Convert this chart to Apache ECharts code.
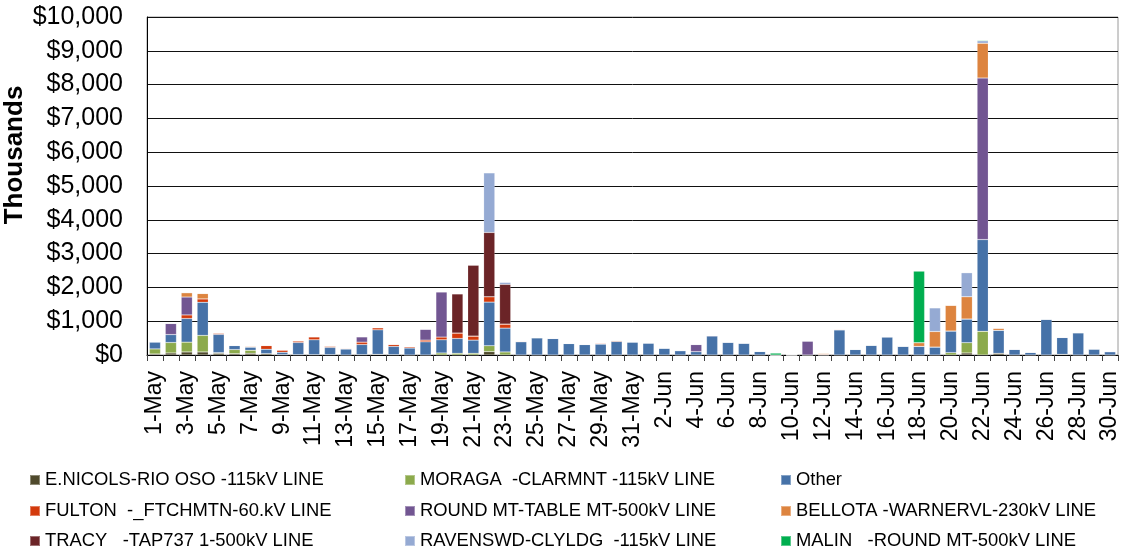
<!DOCTYPE html>
<html><head><meta charset="utf-8">
<script src="https://cdn.jsdelivr.net/npm/echarts@6/dist/echarts.min.js"></script>
<style>html,body{margin:0;padding:0;background:#fff}#c{width:1122px;height:554px}</style>
</head><body><div id="c"></div>
<script>
const categories = ["1-May","2-May","3-May","4-May","5-May","6-May","7-May","8-May","9-May","10-May","11-May","12-May","13-May","14-May","15-May","16-May","17-May","18-May","19-May","20-May","21-May","22-May","23-May","24-May","25-May","26-May","27-May","28-May","29-May","30-May","31-May","1-Jun","2-Jun","3-Jun","4-Jun","5-Jun","6-Jun","7-Jun","8-Jun","9-Jun","10-Jun","11-Jun","12-Jun","13-Jun","14-Jun","15-Jun","16-Jun","17-Jun","18-Jun","19-Jun","20-Jun","21-Jun","22-Jun","23-Jun","24-Jun","25-Jun","26-Jun","27-Jun","28-Jun","29-Jun","30-Jun"];
const seriesNames = ["E.NICOLS-RIO OSO -115kV LINE","MORAGA  -CLARMNT -115kV LINE","Other","FULTON  -_FTCHMTN-60.kV LINE","ROUND MT-TABLE MT-500kV LINE","BELLOTA -WARNERVL-230kV LINE","TRACY   -TAP737 1-500kV LINE","RAVENSWD-CLYLDG  -115kV LINE","MALIN   -ROUND MT-500kV LINE"];
const colors = ["#4F4A2C","#8CAA4C","#4672A8","#D33A0C","#725692","#DD843F","#6B2427","#95AAD3","#00AE4F"];
const yAxisTitle = "Thousands";
// values in thousands of dollars
const eNicols = [30,60,90,90,50,40,50,40,10,10,10,10,0,10,20,10,0,0,0,0,0,100,0,0,0,0,0,0,0,0,0,0,0,0,0,0,0,0,0,0,0,0,0,0,0,0,0,0,0,0,0,60,0,50,0,0,0,20,0,0,0];
const moraga = [150,310,290,490,20,120,90,0,0,0,0,0,0,0,0,0,0,0,60,50,50,175,90,0,0,0,0,0,0,0,0,0,0,0,0,0,0,0,0,0,0,0,0,0,0,0,0,0,0,0,70,305,700,0,0,0,0,0,0,0,0];
const other = [210,235,700,980,540,120,90,130,70,360,440,215,175,300,725,245,205,390,390,440,390,1290,705,390,510,490,340,310,320,400,385,355,200,130,100,565,375,350,105,0,5,0,0,740,165,290,535,260,255,235,640,700,2715,680,170,80,1060,500,660,180,100];
const fulton = [0,0,105,100,40,0,20,110,70,50,90,40,20,70,60,60,40,50,80,160,120,160,120,20,0,0,0,0,30,25,5,5,10,0,0,0,10,5,5,0,0,0,20,20,5,0,5,0,0,0,0,0,0,0,0,0,0,0,0,0,0];
const roundMt = [0,330,530,0,0,0,0,0,0,0,0,0,0,160,0,0,0,325,1340,0,0,0,0,0,0,0,0,0,0,0,0,0,0,0,210,10,0,0,0,0,0,415,0,0,0,0,0,0,0,0,0,0,4780,0,0,0,0,0,0,0,0];
const bellota = [0,0,130,160,0,0,20,0,0,0,0,0,15,0,10,0,0,0,0,0,0,0,0,0,0,0,0,0,0,0,0,0,0,0,0,0,0,0,0,0,0,0,30,0,0,0,0,0,110,460,760,660,1030,60,0,0,0,0,0,0,0];
const tracy = [0,0,0,0,0,0,0,0,0,0,0,0,0,0,0,0,0,0,0,1160,2100,1900,1175,0,0,0,0,0,0,0,0,0,0,0,0,0,0,0,0,0,0,0,0,0,0,0,0,0,0,0,0,0,0,0,0,0,0,0,0,0,0];
const ravenswd = [0,0,0,0,0,15,0,0,0,0,0,0,0,0,0,0,0,0,0,0,0,1765,60,0,10,0,0,0,0,0,0,0,0,10,0,0,0,0,0,0,0,0,0,10,0,5,0,5,0,700,0,710,70,10,0,0,0,0,0,0,0];
const malin = [0,0,0,0,0,0,0,0,0,0,0,0,0,0,0,0,0,0,0,0,0,0,0,0,0,0,0,0,0,0,0,0,0,0,0,0,0,0,0,55,0,0,0,0,0,0,0,0,2115,0,0,0,20,0,0,0,0,0,0,0,0];
const yTicks = [0,1000,2000,3000,4000,5000,6000,7000,8000,9000,10000];

const allData = [eNicols, moraga, other, fulton, roundMt, bellota, tracy, ravenswd, malin];
const font = "'Liberation Sans', Arial, sans-serif";

const series = seriesNames.map((n, i) => ({
  name: n, type: 'bar', stack: 'total', data: allData[i],
  barCategoryGap: '30%',
  itemStyle: { color: colors[i], borderColor: 'rgba(255,255,255,0.35)', borderWidth: 0.5 },
  emphasis: { disabled: true }
}));

// legend grid: 3 columns x 3 rows, row-major order
const legendLefts = [29, 404, 780];
const legendTops = [471, 502, 532];
const legends = seriesNames.map((n, i) => ({
  orient: 'horizontal', left: legendLefts[i % 3], top: legendTops[Math.floor(i / 3)],
  itemWidth: 10, itemHeight: 10, icon: 'rect', itemGap: 0, padding: 0,
  data: [n],
  textStyle: { fontFamily: font, fontSize: 18.4, color: '#000' },
  selectedMode: false
}));

const chart = echarts.init(document.getElementById('c'), null, { renderer: 'canvas' });
chart.setOption({
  animation: false,
  color: colors,
  grid: { left: 147, right: 4, top: 17, bottom: 199, show: true, borderColor: '#9a9a9a', borderWidth: 1,
          containLabel: false, outerBoundsMode: 'none' },
  legend: legends,
  graphic: [{
    type: 'text', x: 15, y: 155, rotation: Math.PI / 2,
    style: { text: yAxisTitle, font: "bold 26px 'Liberation Sans', Arial, sans-serif", fill: '#000',
             align: 'center', verticalAlign: 'middle' }
  }],
  xAxis: {
    type: 'category', data: categories,
    axisLine: { lineStyle: { color: '#000', width: 1 } },
    axisTick: { show: true, interval: 0, length: 6, lineStyle: { color: '#444' } },
    axisLabel: { interval: 1, rotate: 90, fontFamily: font, fontSize: 23, color: '#000', margin: 16 }
  },
  yAxis: {
    type: 'value', min: 0, max: 10000, interval: 1000,
    axisLine: { show: true, lineStyle: { color: '#000' } },
    axisTick: { show: false },
    axisLabel: { fontFamily: font, fontSize: 25, color: '#000', margin: 24,
      formatter: v => '$' + v.toLocaleString('en-US') },
    splitLine: { lineStyle: { color: '#111', width: 1 } }
  },
  series: series
});
</script></body></html>
